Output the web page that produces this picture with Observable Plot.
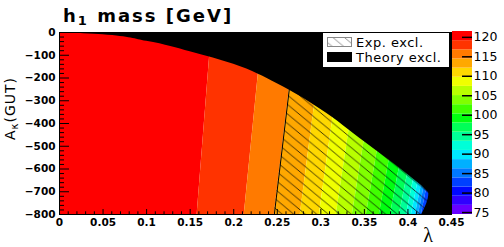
<!DOCTYPE html>
<html><head><meta charset="utf-8">
<script src="https://cdn.jsdelivr.net/npm/d3@7"></script>
<script src="https://cdn.jsdelivr.net/npm/@observablehq/plot@0.6"></script>
<style>
body{margin:0;background:#fff;}
#c{position:relative;width:504px;height:247px;overflow:hidden;background:#fff;}
#c svg{position:absolute;top:0;}
</style></head><body><div id="c"></div>
<script>
// ---- data ----
const colorEdges = [74.5,76.85,79.2,81.55,83.9,86.25,88.6,90.95,93.3,95.65,98.0,100.35,102.7,105.05,107.4,109.75,112.1,114.45,116.8,119.15,121.5];
const colorTicks = [75,80,85,90,95,100,105,110,115,120];
// mass contour boundaries (GeV) and their lambda position at A_kappa = 0 and -800
const boundaryMass = [119.15,116.8,114.45,112.1,109.75,107.4,105.05,102.7,100.35,98.0,95.65,93.3,90.95,88.6,86.25,83.9];
const boundaryLambdaTop = [0.1745,0.2330,0.2716,0.3036,0.3276,0.3492,0.3697,0.3879,0.4049,0.4196,0.4320,0.4401,0.4458,0.4504,0.4539,0.4573];
const boundaryLambdaBottom = [0.1580,0.2121,0.2466,0.2764,0.2983,0.3178,0.3362,0.3523,0.3672,0.3799,0.3902,0.3983,0.4040,0.4086,0.4121,0.4155];
// experimental exclusion edge (m_h1 = 114.4 GeV)
const expLambdaTop = 0.2716, expLambdaBottom = 0.2466;
// theory exclusion boundary
const theoryLambda = [0, 0.05, 0.1, 0.15, 0.2, 0.25, 0.3, 0.35, 0.4, 0.42, 0.424, 0.416];
const theoryA = [0, -10, -39, -85, -140, -225, -338, -480, -625, -690, -708, -800];
const lambdaTicks = [0,0.05,0.1,0.15,0.2,0.25,0.3,0.35,0.4,0.45];
const lambdaMinor = [0.01,0.02,0.03,0.04,0.06,0.07,0.08,0.09,0.11,0.12,0.13,0.14,0.16,0.17,0.18,0.19,0.21,0.22,0.23,0.24,0.26,0.27,0.28,0.29,0.31,0.32,0.33,0.34,0.36,0.37,0.38,0.39,0.41,0.42,0.43,0.44];
const aTicks = [-800,-700,-600,-500,-400,-300,-200,-100,0];
const aMinor = [-780,-760,-740,-720,-680,-660,-640,-620,-580,-560,-540,-520,-480,-460,-440,-420,-380,-360,-340,-320,-280,-260,-240,-220,-180,-160,-140,-120,-80,-60,-40,-20];

// ---- style ----
const palette = ["#6800ff","#3000ff","#0008ff","#0040ff","#0078ff","#00b0ff","#00e8ff","#00ffd8","#00ff98","#00ff58","#00ff10","#40ff00","#80ff00","#b8ff00","#f0ff00","#ffd800","#ffa800","#ff7a00","#ff3300","#ff0000"];
function colorOf(m){ let i = d3.bisectRight(colorEdges, m) - 1; i = Math.max(0, Math.min(palette.length-1, i)); return palette[i]; }

const A0 = 0, A1 = -800, LMAX = 0.45;
const n = boundaryMass.length;
const bandMarks = [];
for (let k = 0; k <= n; k++) {
  const lt = k === 0 ? 0 : boundaryLambdaTop[k-1];
  const lb = k === 0 ? 0 : boundaryLambdaBottom[k-1];
  const rt = k === n ? 0.5 : boundaryLambdaTop[k];
  const rb = k === n ? 0.5 : boundaryLambdaBottom[k];
  const m = k === 0 ? boundaryMass[0] + 1 : (k === n ? boundaryMass[n-1] - 1 : (boundaryMass[k-1] + boundaryMass[k]) / 2);
  const rows = [{a: A0, l: lt, r: rt}, {a: A1, l: lb, r: rb}];
  bandMarks.push(Plot.areaX(rows, {y: "a", x1: "l", x2: "r", fill: colorOf(m), clip: true}));
}
const expRows = [{a: A0, l: expLambdaTop}, {a: A1, l: expLambdaBottom}];
const theoryRows = theoryLambda.map((l, i) => ({l, a: theoryA[i]}));

const W = 504, H = 247, mL = 59, mR = 53, mT = 32, mB = 33;
const pw = W - mL - mR, ph = H - mT - mB;
const fmt = d => d === 0 ? "0" : String(+d.toFixed(2));

const main = Plot.plot({
  width: W, height: H, marginLeft: mL, marginRight: mR, marginTop: mT, marginBottom: mB,
  x: {domain: [0, LMAX]}, y: {domain: [A1, A0]},
  style: {fontFamily: "DejaVu Sans", background: "transparent", color: "black"},
  marks: [
    ...bandMarks,
    Plot.areaX(expRows, {y: "a", x1: "l", x2: () => 0.5, fill: "url(#hatch)", clip: true}),
    Plot.line(expRows, {x: "l", y: "a", stroke: "black", strokeWidth: 1}),
    Plot.areaX(theoryRows, {y: "a", x1: "l", x2: () => 0.5, fill: "black", curve: "monotone-y", clip: true}),
    Plot.tickY(aTicks, {y: d => d, insetRight: pw - 10, stroke: "black", strokeWidth: 1}),
    Plot.tickY(aMinor, {y: d => d, insetRight: pw - 5, stroke: "black", strokeWidth: 1}),
    Plot.tickX(lambdaTicks, {x: d => d, insetTop: ph - 5, stroke: "black", strokeWidth: 1}),
    Plot.tickX(lambdaMinor, {x: d => d, insetTop: ph - 2.7, stroke: "black", strokeWidth: 1}),
    Plot.frame({stroke: "black", strokeWidth: 1}),
    Plot.axisX(lambdaTicks, {tickSize: 0, tickPadding: 4, fontSize: 10.5, fontWeight: "bold", tickFormat: fmt, label: null}),
    Plot.axisY(aTicks, {tickSize: 0, tickPadding: 4, fontSize: 10.5, fontWeight: "bold", label: null})
  ]
});

const cbBands = colorEdges.slice(0, -1).map((lo, i) => ({lo, hi: colorEdges[i+1], color: palette[i]}));
const cb = Plot.plot({
  width: 52, height: H, marginLeft: 0, marginRight: 32, marginTop: 31, marginBottom: 33,
  x: {domain: [0, 1], axis: null}, y: {domain: [74.5, 121.5]},
  color: {type: "identity"},
  style: {fontFamily: "DejaVu Sans", background: "transparent", color: "black"},
  marks: [
    Plot.rect(cbBands, {x1: () => 0, x2: () => 1, y1: "lo", y2: "hi", fill: "color"}),
    Plot.tickY(colorTicks, {y: d => d, insetLeft: 10, stroke: "black", strokeWidth: 1.5}),
    Plot.axisY(colorTicks, {anchor: "right", tickSize: 0, tickPadding: 1, fontSize: 12.5, label: null})
  ]
});

const c = document.getElementById("c");
c.appendChild(main);
cb.style.left = "452px";
c.appendChild(cb);
main.style.left = "0px";

const svg = d3.select(main);
const defs = svg.insert("defs", ":first-child");
function hatch(id, color, op){
  const w = 11.5, h = 9.5;
  const p = defs.append("pattern").attr("id", id).attr("patternUnits", "userSpaceOnUse")
    .attr("width", w).attr("height", h);
  p.append("path").attr("d", `M${-w},${-h}L${2*w},${2*h}M0,${-h}L${3*w},${2*h}M${-2*w},${-h}L${w},${2*h}`)
    .attr("stroke", color).attr("stroke-width", 0.9).attr("stroke-opacity", op).attr("fill", "none");
}
hatch("hatch", "#000", 0.8);
hatch("hatchL", "#888", 1);

// title
const t = svg.append("text").attr("x", 63).attr("y", 22).attr("text-anchor", "start").attr("font-family", "DejaVu Sans")
  .attr("font-weight", "bold").attr("font-size", 18).attr("letter-spacing", 2).style("white-space", "pre");
t.append("tspan").text("h");
t.append("tspan").attr("font-size", 13).attr("dy", 3).text("1");
t.append("tspan").attr("dy", -3).text(" mass [GeV]");

// y label
const yl = svg.append("text").attr("transform", "translate(14.5,108.5) rotate(-90)").attr("text-anchor", "middle")
  .attr("font-family", "DejaVu Sans").attr("font-size", 14).attr("letter-spacing", 1);
yl.append("tspan").text("A");
yl.append("tspan").attr("font-size", 10).attr("dy", 3).text("κ");
yl.append("tspan").attr("dy", -3).text("(GUT)");

// x label
svg.append("text").attr("x", 428).attr("y", 242).attr("text-anchor", "middle")
  .attr("font-family", "Liberation Serif").attr("font-size", 20).text("λ");

// legend
const lg = svg.append("g").attr("text-anchor", "start");
lg.append("rect").attr("x", 322.5).attr("y", 32.5).attr("width", 127).attr("height", 35).attr("fill", "white").attr("stroke", "black");
lg.append("rect").attr("x", 327.5).attr("y", 37.5).attr("width", 24).attr("height", 9).attr("fill", "white");
lg.append("rect").attr("x", 327.5).attr("y", 37.5).attr("width", 24).attr("height", 9).attr("fill", "url(#hatchL)").attr("stroke", "#888");
lg.append("rect").attr("x", 327.5).attr("y", 52.5).attr("width", 24).attr("height", 9).attr("fill", "black").attr("stroke", "black");
lg.append("text").attr("x", 356).attr("y", 46.5).attr("font-family", "DejaVu Sans").attr("font-size", 13).attr("letter-spacing", 0.5).text("Exp. excl.");
lg.append("text").attr("x", 356).attr("y", 61.5).attr("font-family", "DejaVu Sans").attr("font-size", 13).attr("letter-spacing", 0.5).text("Theory excl.");
</script></body></html>
